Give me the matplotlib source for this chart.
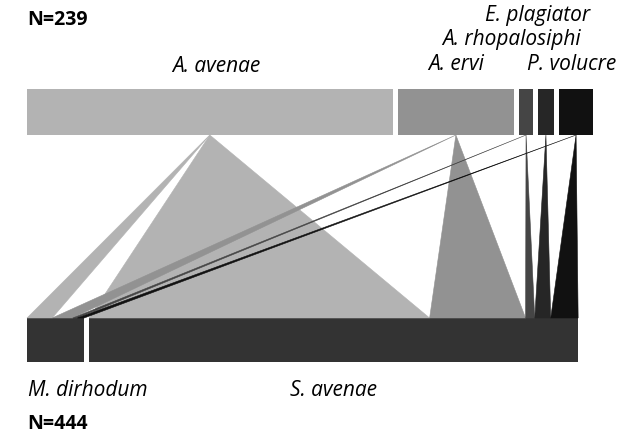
import numpy as np
import matplotlib
matplotlib.use("Agg")
import matplotlib.pyplot as plt
from matplotlib.patches import Rectangle, Polygon

# parasitoids (upper level) and aphid hosts (lower level)
upper = ["A. avenae", "A. ervi", "A. rhopalosiphi", "E. plagiator", "P. volucre"]
lower = ["M. dirhodum", "S. avenae"]
upper_colors = ["#b3b3b3", "#929292", "#454545", "#262626", "#111111"]
lower_color = "#333333"

# interaction counts: rows = lower, cols = upper
web = np.array([
    [11, 9, 2, 0, 3],      # M. dirhodum
    [149, 42, 4, 7, 12],   # S. avenae
])
n_upper = 239
n_lower = 444

# layout (pixels)
W, H = 618, 438
PX_PER_UNIT = 2.285
LEFT = 27
GAP_TOP = 2.2
GAP_BOT = 2.2
TOP_Y0, TOP_Y1 = 89, 135
BOT_Y0, BOT_Y1 = 318, 362

plt.rcParams["font.family"] = ["Open Sans", "DejaVu Sans"]

fig = plt.figure(figsize=(W / 100, H / 100), dpi=100)
ax = fig.add_axes([0, 0, 1, 1])
ax.set_xlim(-LEFT / PX_PER_UNIT, (W - LEFT) / PX_PER_UNIT)
ax.set_ylim(H, 0)
ax.axis("off")

col_tot = web.sum(axis=0)
row_tot = web.sum(axis=1)

# box positions
up_left = np.concatenate([[0], np.cumsum(col_tot + GAP_TOP)[:-1]])
lo_left = np.concatenate([[0], np.cumsum(row_tot + GAP_BOT)[:-1]])
up_mid = up_left + col_tot / 2
lo_mid = lo_left + row_tot / 2

for i in range(len(upper)):
    ax.add_patch(Rectangle((up_left[i], TOP_Y0), col_tot[i], TOP_Y1 - TOP_Y0,
                           color=upper_colors[i], lw=0))
for j in range(len(lower)):
    ax.add_patch(Rectangle((lo_left[j], BOT_Y0), row_tot[j], BOT_Y1 - BOT_Y0,
                           color=lower_color, lw=0))

# links: apex at centre of parasitoid box, base on host box
# S. avenae first so M. dirhodum links are drawn on top
for j in [1, 0]:
    x = lo_left[j]
    for i in range(len(upper)):
        w = web[j, i]
        if w > 0:
            pts = [(up_mid[i], TOP_Y1), (x, BOT_Y0), (x + w, BOT_Y0)]
            ax.add_patch(Polygon(pts, closed=True, color=upper_colors[i], lw=0.4))
        x += w

# labels
px = lambda p: (p - LEFT) / PX_PER_UNIT
lab_fs = 15
up_lab_x = [px(216), up_mid[1], px(511), px(538), px(616)]
up_lab_y = [66, 65, 40, 15, 65]
up_lab_ha = ["center", "center", "center", "center", "right"]
for name, lx, ly, ha in zip(upper, up_lab_x, up_lab_y, up_lab_ha):
    ax.text(lx, ly, name, ha=ha, va="center", style="italic", fontsize=lab_fs)
ax.text(px(28), 390, lower[0], ha="left", va="center", style="italic", fontsize=lab_fs)
ax.text(lo_mid[1], 390, lower[1], ha="center", va="center",
        style="italic", fontsize=lab_fs)
ax.text(px(27), 20, f"N={n_upper}", ha="left", va="center", fontweight="bold", fontsize=14)
ax.text(px(27), 424, f"N={n_lower}", ha="left", va="center", fontweight="bold", fontsize=14)

fig.savefig("out.png", dpi=100)
